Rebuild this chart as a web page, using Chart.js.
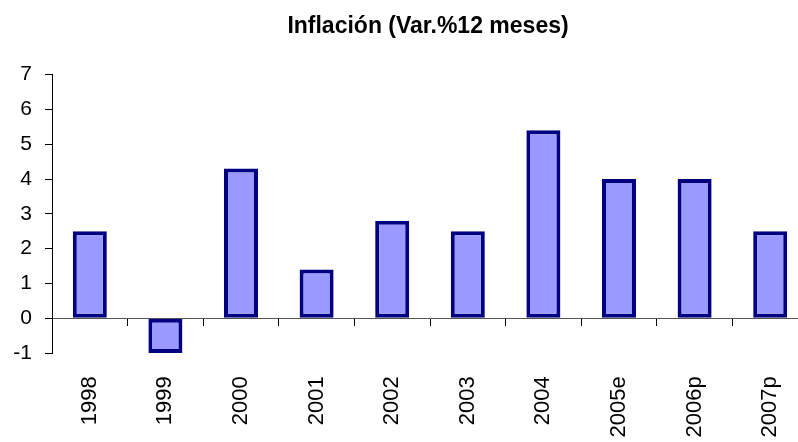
<!DOCTYPE html>
<html>
<head>
<meta charset="utf-8">
<script src="https://cdn.jsdelivr.net/npm/chart.js@4/dist/chart.umd.min.js"></script>
<style>
    html, body { margin: 0; padding: 0; background: #fff; }
</style>
</head>
<body>
<!-- the original chart is cut off on the right, so the canvas is wider than the window -->
<div id="wrap" style="width:798px;height:442px;overflow:hidden;">
    <div id="box" style="width:870px;height:442px;">
        <canvas id="inflationChart"></canvas>
    </div>
</div>
<script>
// categories and values
const years = ["1998", "1999", "2000", "2001", "2002", "2003", "2004", "2005e", "2006p", "2007p"];
const inflation = [2.5, -1.0, 4.3, 1.4, 2.8, 2.5, 5.4, 4.0, 4.0, 2.5];
const y_ticks = [-1, 0, 1, 2, 3, 4, 5, 6, 7];

const font_family = "'Liberation Sans', Arial, sans-serif";

const ctx = document.getElementById("inflationChart");
const myBarChart = new Chart(ctx, {
    type: 'bar',
    data: {
        labels: years,
        datasets: [{
            label: 'Inflación',
            data: inflation,
            backgroundColor: '#9999ff',
            borderColor: '#000080',
            borderWidth: 4,
            borderSkipped: false,
            barPercentage: 0.45,
            categoryPercentage: 1.0
        }]
    },
    options: {
        responsive: true,
        maintainAspectRatio: false,
        animation: false,
        layout: {
            // x axis sits on zero, so its labels need room kept free below the plot
            padding: { left: 0, right: 14, top: 0, bottom: 89 }
        },
        plugins: {
            legend: { display: false },
            tooltip: { enabled: false },
            title: {
                display: true,
                text: 'Inflación (Var.%12 meses)',
                color: '#000',
                font: { family: font_family, size: 23, weight: 'bold' },
                padding: { top: 13, bottom: 34 }
            }
        },
        scales: {
            x: {
                position: { y: 0 },
                offset: true,
                // fixed right gap so the plot ends where the original does (808px)
                afterFit: function(scale) {
                    scale.paddingLeft = 0;
                    scale.paddingRight = 62;
                },
                grid: {
                    drawOnChartArea: false,
                    drawTicks: true,
                    tickLength: 7,
                    color: '#000'
                },
                border: { display: true, color: '#555', width: 1 },
                ticks: {
                    color: '#000',
                    minRotation: 90,
                    maxRotation: 90,
                    padding: 51,
                    autoSkip: false,
                    font: { family: font_family, size: 22 }
                }
            },
            y: {
                min: -1,
                max: 7,
                afterFit: function(scale) {
                    scale.width = 52;
                },
                afterBuildTicks: function(scale) {
                    scale.ticks = y_ticks.map((v) => ({ value: v }));
                },
                grid: {
                    drawOnChartArea: false,
                    drawTicks: true,
                    tickLength: 7,
                    color: '#000'
                },
                border: { display: true, color: '#000', width: 1 },
                ticks: {
                    color: '#000',
                    padding: 13,
                    font: { family: font_family, size: 21 }
                }
            }
        }
    }
});
</script>
</body>
</html>
